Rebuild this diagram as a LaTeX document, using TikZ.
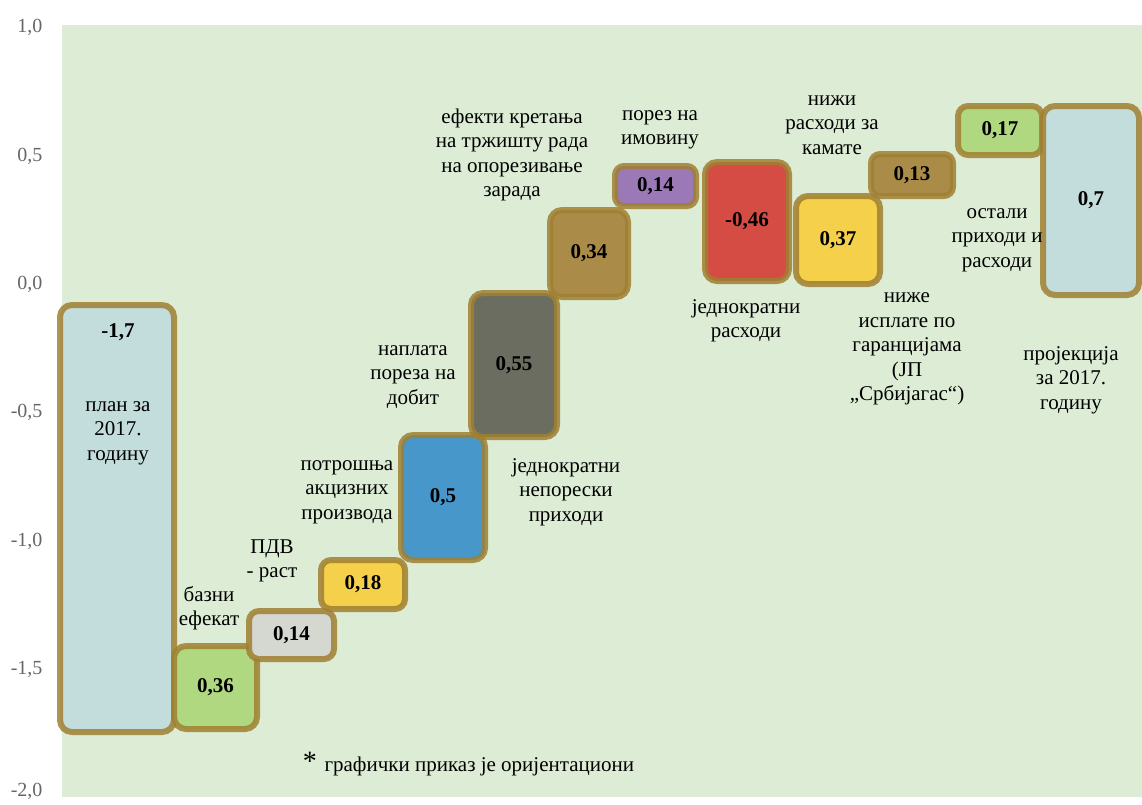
\documentclass[tikz,border=0pt]{standalone}
\usepackage{fontspec}
\setmainfont{Liberation Serif}
\usepackage{xcolor}
\usetikzlibrary{positioning}
\definecolor{plotbg}{RGB}{221,237,213}
\definecolor{edge}{RGB}{160,128,50}
\definecolor{lightblue}{RGB}{195,220,220}
\definecolor{lightgreen}{RGB}{175,216,128}
\definecolor{lightgrey}{RGB}{213,215,209}
\definecolor{gold}{RGB}{245,208,74}
\definecolor{steelblue}{RGB}{71,151,202}
\definecolor{darkgrey}{RGB}{106,109,96}
\definecolor{ochre}{RGB}{170,140,72}
\definecolor{lilac}{RGB}{155,120,182}
\definecolor{brick}{RGB}{213,76,68}

\begin{document}
\begin{tikzpicture}[x=1pt, y=-1pt,
    bar/.style={draw=edge, draw opacity=0.85, line width=6pt, rounded corners=12pt,
                inner sep=0pt, font=\fontsize{21}{24}\selectfont\bfseries},
    lbl/.style={align=center, text=black, font=\fontsize{21}{24.5}\selectfont},
    tick/.style={anchor=east, text=black!60, font=\fontsize{20}{24}\selectfont}]
    \useasboundingbox (0,0) rectangle (1142,804);
    \fill[plotbg] (62,25) rectangle (1142,797);
    % axis
    \foreach \t/\y in {{1,0}/27, {0,5}/156, {0,0}/284, {-0,5}/412, {-1,0}/541, {-1,5}/669, {-2,0}/791}
        \node[tick] at (46,\y) {\t};
    % bars
    \node[bar, fill=lightblue, minimum width=114pt, minimum height=427pt] (plan) at (117,518.5) {};
    \node[bar, fill=lightgreen, minimum width=83pt, minimum height=83pt] (base) at (215.5,687.5) {0,36};
    \node[bar, fill=lightgrey, minimum width=85pt, minimum height=48pt, rounded corners=10pt] (vat) at (291.5,635) {0,14};
    \node[bar, fill=gold, minimum width=84pt, minimum height=49pt, rounded corners=10pt] (excise) at (363,584.5) {0,18};
    \node[bar, fill=steelblue, minimum width=84pt, minimum height=125pt] (profit) at (443,497.5) {0,5};
    \node[bar, fill=darkgrey, minimum width=86pt, minimum height=144pt] (nontax) at (514,365) {0,55};
    \node[bar, fill=ochre, minimum width=78pt, minimum height=87pt] (labour) at (589,253.5) {0,34};
    \node[bar, fill=lilac, minimum width=81pt, minimum height=40pt, rounded corners=9pt] (property) at (655.5,186) {0,14};
    \node[bar, fill=brick, minimum width=84pt, minimum height=119pt] (oneoff) at (747,221.5) {-0,46};
    \node[bar, fill=gold, minimum width=84pt, minimum height=88pt] (guarant) at (838,240) {0,37};
    \node[bar, fill=ochre, minimum width=82pt, minimum height=42pt, rounded corners=9pt] (interest) at (912,175) {0,13};
    \node[bar, fill=lightgreen, minimum width=84pt, minimum height=49pt, rounded corners=10pt] (other) at (1000,130.5) {0,17};
    \node[bar, fill=lightblue, minimum width=96pt, minimum height=189pt] (proj) at (1091,200.5) {0,7};
    % labels
    \node[font=\fontsize{21}{24}\selectfont\bfseries] (planval) at (118,332) {-1,7};
    \node[lbl] (plantxt) at (118,433) {план за\\2017.\\годину};
    \node[lbl] (basetxt) at (209,608) {базни\\ефекат};
    \node[lbl] (vattxt) at (272,561) {ПДВ\\- раст};
    \node[lbl] (excisetxt) at (347,492) {потрошња\\акцизних\\производа};
    \node[lbl] (profittxt) at (413,377) {наплата\\пореза на\\добит};
    \node[lbl] (nontaxtxt) at (566,492) {једнократни\\непорески\\приходи};
    \node[lbl] (labourtxt) at (512,155) {ефекти кретања\\на тржишту рада\\на опорезивање\\зарада};
    \node[lbl] (propertytxt) at (660,130) {порез на\\имовину};
    \node[lbl] (oneofftxt) at (746,321) {једнократни\\расходи};
    \node[lbl] (interesttxt) at (832,125) {нижи\\расходи за\\камате};
    \node[lbl] (guaranttxt) at (907,349) {ниже\\исплате по\\гаранцијама\\(ЈП\\„Србијагас“)};
    \node[lbl] (othertxt) at (997,240) {остали\\приходи и\\расходи};
    \node[lbl] (projtxt) at (1071,380) {пројекција\\за 2017.\\годину};
    % note
    \node[lbl, anchor=west] (note) at (321,766) {графички приказ је оријентациони};
    \node[font=\fontsize{28}{28}\selectfont, left=4pt of note.west, yshift=5pt, inner sep=0pt] (star) {*};
\end{tikzpicture}
\end{document}
